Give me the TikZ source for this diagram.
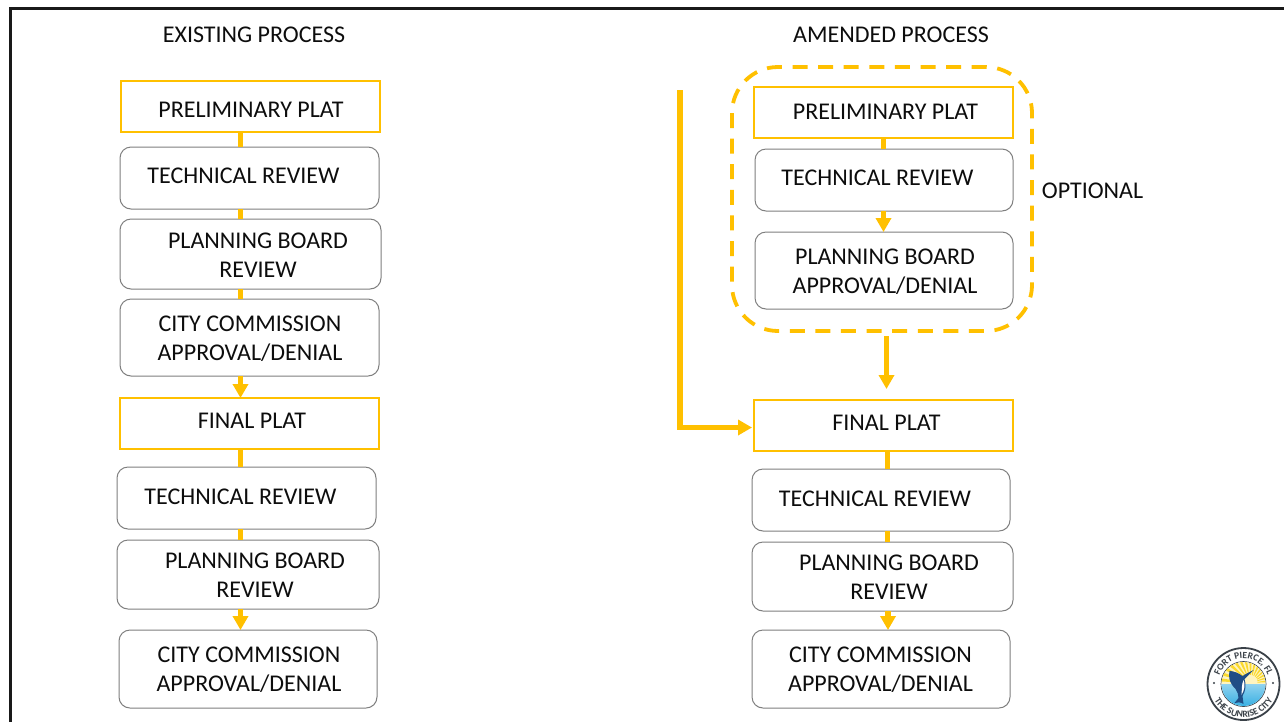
\documentclass[tikz,border=0pt]{standalone}
\usepackage{fontspec}
\setmainfont{Carlito}
\usetikzlibrary{arrows.meta,calc,decorations.text}
\definecolor{gold}{HTML}{FFC000}
\definecolor{edge}{HTML}{7F7F7F}
\definecolor{logodark}{HTML}{3A4148}
\definecolor{sea}{HTML}{35AEE2}
\definecolor{sun}{HTML}{FBD92E}
\definecolor{fish}{HTML}{1F4E86}
\tikzset{
  x=1pt,y=-1pt,
  gen/.style={draw=none,inner sep=0pt,outer sep=0pt},
  platbox/.style={gen,draw=gold,line width=2.6pt,fill=white},
  revbox/.style={gen,draw=edge,line width=1pt,rounded corners=11pt,fill=white},
  lbl/.style={inner sep=0pt,font=\fontsize{24}{29}\selectfont,text=black!95,align=center,anchor=center},
  link/.style={draw=gold,line width=5pt},
  arrowlink/.style={draw=gold,line width=5.2pt,-{Triangle[width=15pt,length=14pt]}},
}
\newcommand{\bx}[6]{\node[#1,minimum width=#4-#3,minimum height=#6-#5] (#2) at ({(#3+#4)/2},{(#5+#6)/2}) {};}
\begin{document}
\begin{tikzpicture}
\useasboundingbox (0,0) rectangle (1284,721);
\fill[white] (0,0) rectangle (1284,721);
\draw[black!90,line width=2.6pt] (10.5,725) -- (10.5,8.5) -- (1290,8.5);

% left column boxes
\bx{platbox}{lp}{121}{380}{81}{132}
\bx{revbox}{lt}{120}{379}{147}{209}
\bx{revbox}{lb}{120}{381}{219}{289}
\bx{revbox}{lc}{120}{379}{299}{376}
\bx{platbox}{lf}{120}{379}{398}{449}
\bx{revbox}{lt2}{117}{376}{467}{529}
\bx{revbox}{lb2}{117}{379}{540}{609}
\bx{revbox}{lc2}{119}{377}{630}{708}
% right column boxes
\draw[draw=gold,line width=3.8pt,dash pattern=on 15pt off 10.6pt,rounded corners=46pt] (732,67) rectangle (1032,331);
\coordinate (optbottom) at (886.5,336);
\coordinate (bypass) at (680,90);
\bx{platbox}{rp}{754}{1013}{87}{138}
\bx{revbox}{rt}{755}{1013}{149}{211}
\bx{revbox}{rb}{755}{1013}{232}{309}
\bx{platbox}{rf}{754}{1013}{400}{451}
\bx{revbox}{rt2}{752}{1010}{469}{531}
\bx{revbox}{rb2}{752}{1013}{542}{611}
\bx{revbox}{rc2}{752}{1010}{630}{708}

% connectors
\path[link] (lp.south -| 240.5,0) -- (lt.north -| 240.5,0);
\path[link] (lt.south -| 240.5,0) -- (lb.north -| 240.5,0);
\path[link] (lb.south -| 240.5,0) -- (lc.north -| 240.5,0);
\path[arrowlink] (lc.south -| 240.5,0) -- (lf.north -| 240.5,0);
\path[link] (lf.south -| 240.5,0) -- (lt2.north -| 240.5,0);
\path[link] (lt2.south -| 240.5,0) -- (lb2.north -| 240.5,0);
\path[arrowlink] (lb2.south -| 240.5,0) -- (lc2.north -| 240.5,0);
\path[link] (rp.south -| 883.5,0) -- (rt.north -| 883.5,0);
\path[arrowlink] (rt.south -| 883.5,0) -- (rb.north -| 883.5,0);
\path[arrowlink] (optbottom) -- ($(rf.north -| 886.5,0)+(0,-11)$);
\path[link] (rf.south -| 887,0) -- (rt2.north -| 887,0);
\path[link] (rt2.south -| 887,0) -- (rb2.north -| 887,0);
\path[arrowlink] (rb2.south -| 888,0) -- (rc2.north -| 888,0);
\coordinate (elbowend) at ($(rf.west)+(-2,2)$);
\path[arrowlink,line width=5.6pt] (bypass) -- (bypass |- elbowend) -- (elbowend);

% labels
\node[lbl] (tl) at (254,35) {EXISTING PROCESS};
\node[lbl] (tr) at (891,35) {AMENDED PROCESS};
\node[lbl] (opt) at (1092.5,191) {OPTIONAL};
\node[lbl] at (251,110) {PRELIMINARY PLAT};
\node[lbl] at (243.5,176) {TECHNICAL REVIEW};
\node[lbl] at (258,255.5) {PLANNING BOARD\\REVIEW};
\node[lbl] at (250,338.5) {CITY COMMISSION\\APPROVAL/DENIAL};
\node[lbl] at (252,421) {FINAL PLAT};
\node[lbl] at (240.5,497) {TECHNICAL REVIEW};
\node[lbl] at (255,575.5) {PLANNING BOARD\\REVIEW};
\node[lbl] at (249,669.5) {CITY COMMISSION\\APPROVAL/DENIAL};
\node[lbl] at (885.5,112) {PRELIMINARY PLAT};
\node[lbl] at (877.5,178) {TECHNICAL REVIEW};
\node[lbl] at (885,271.5) {PLANNING BOARD\\APPROVAL/DENIAL};
\node[lbl] at (886.5,423) {FINAL PLAT};
\node[lbl] at (875,499) {TECHNICAL REVIEW};
\node[lbl] at (889,577.5) {PLANNING BOARD\\REVIEW};
\node[lbl] at (880.5,669.5) {CITY COMMISSION\\APPROVAL/DENIAL};

% logo
\begin{scope}[shift={(1243.5,684)}]
  \fill[white] (0,0) circle (36.5);
  \draw[logodark,line width=1.8pt] (0,0) circle (36);
  \draw[logodark,line width=0.7pt] (0,0) circle (22.5);
  \begin{scope}
    \clip (0,0) circle (22);
    \fill[sun!30!white] (-23,-23) rectangle (23,0);
    \foreach \a in {186,198,...,354}{
      \fill[sun] (7,-1) -- ($(7,-1)+(\a-3:40)$) -- ($(7,-1)+(\a+3:40)$) -- cycle;
    }
    \fill[white!70!sun] (7,-2) circle (7);
    \shade[top color=sea!55!white,bottom color=sea] (-23,0) rectangle (23,23);
    \fill[fish] (10,-14) .. controls (6,-12) and (2,-10) .. (-1,-8)
      .. controls (-5,-11) and (-10,-13) .. (-14,-13)
      .. controls (-15,-8) and (-15,-2) .. (-8,5)
      .. controls (-6,8) and (-5,11) .. (-5,14)
      -- (-9,19) .. controls (-6,18) and (-3,18) .. (0,20) -- (-1,12)
      .. controls (2,7) and (3,1) .. (1,-5) .. controls (4,-8) and (7,-11) .. (10,-14) -- cycle;
    \fill[white] (0,-4) .. controls (2,0) and (1,6) .. (-2,11) .. controls (-1.5,5) and (-2,0) .. (0,-4) -- cycle;
  \end{scope}
  \path[postaction={decorate},decoration={text along path,text align=center,
    text={|\fontsize{9.5}{10}\bfseries\selectfont\color{logodark}|FORT PIERCE, FL}}]
    (0,0) ++(165:25.5) arc[start angle=165,end angle=375,radius=25.5];
  \path[postaction={decorate},decoration={text along path,text align=center,
    text={|\fontsize{9.5}{10}\bfseries\selectfont\color{logodark}|THE SUNRISE CITY}}]
    (0,0) ++(180:33.5) arc[start angle=180,end angle=0,radius=33.5];
  \fill[logodark] (-29.5,-1) circle (1.2) (29.5,-1) circle (1.2);
\end{scope}
\end{tikzpicture}
\end{document}
